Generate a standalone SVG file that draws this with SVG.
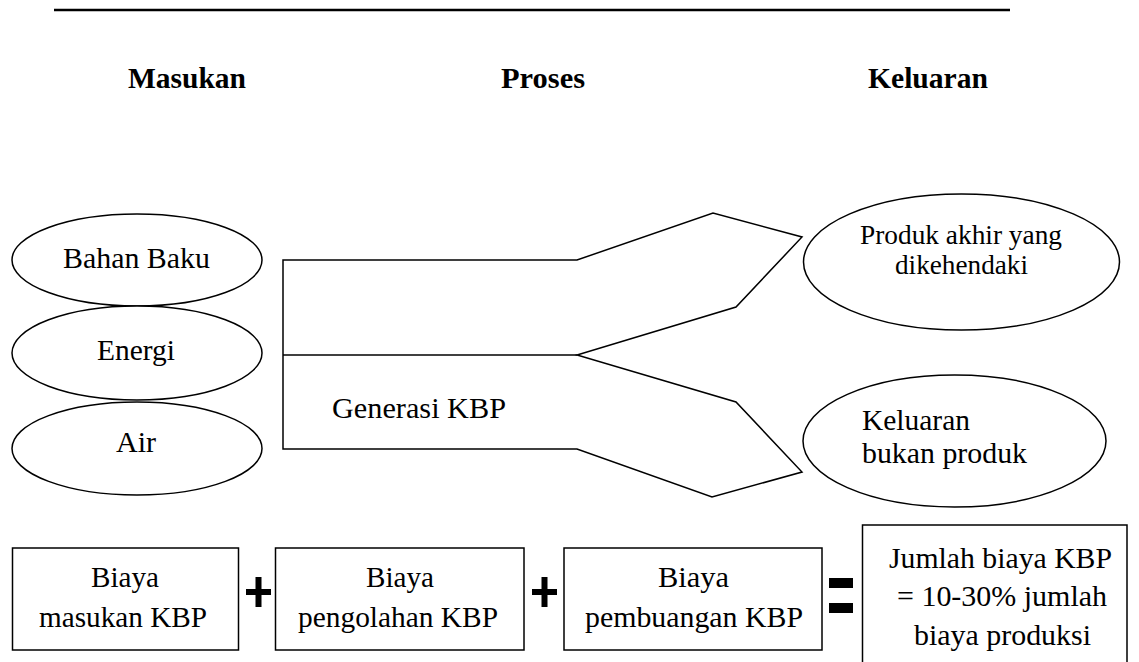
<svg xmlns="http://www.w3.org/2000/svg" width="1139" height="662" viewBox="0 0 1139 662">
  <style>
    .shape { fill: #ffffff; stroke: #000000; stroke-width: 1.5; }
    .edge { fill: none; stroke: #000000; stroke-width: 1.5; }
    .t { font-family: "Liberation Serif", "Times New Roman", serif; font-size: 30px; fill: #000000; }
    .s { font-size: 27.5px; }
    .h { font-family: "Liberation Serif", "Times New Roman", serif; font-size: 30px; font-weight: bold; fill: #000000; }
    .op { fill: #000000; }
  </style>
  <rect width="1139" height="662" fill="#ffffff"/>

  <!-- rule at the top of the page -->
  <line x1="54" y1="10" x2="1010" y2="10" stroke="#000000" stroke-width="2.5"/>

  <!-- column headers -->
  <g id="headers">
    <text class="h" x="128" y="88" textLength="118" lengthAdjust="spacingAndGlyphs">Masukan</text>
    <text class="h" x="501" y="88" textLength="84" lengthAdjust="spacingAndGlyphs">Proses</text>
    <text class="h" x="868" y="88" textLength="120" lengthAdjust="spacingAndGlyphs">Keluaran</text>
  </g>

  <!-- inputs -->
  <g id="input-bahan-baku">
    <ellipse class="shape" cx="137" cy="260" rx="125" ry="46"/>
    <text class="t" x="63" y="268" textLength="147" lengthAdjust="spacingAndGlyphs">Bahan Baku</text>
  </g>
  <g id="input-energi">
    <ellipse class="shape" cx="137" cy="353" rx="125" ry="47"/>
    <text class="t" x="97" y="360" textLength="78" lengthAdjust="spacingAndGlyphs">Energi</text>
  </g>
  <g id="input-air">
    <ellipse class="shape" cx="137" cy="448.5" rx="125" ry="46.5"/>
    <text class="t" x="116" y="452" textLength="40" lengthAdjust="spacingAndGlyphs">Air</text>
  </g>

  <!-- process: forked arrow body -->
  <g id="process">
    <polygon class="shape" points="283,260 577,260 713,213 802,237 736,307 577,355 736,402 802,472 712,497 577,449 283,449"/>
    <line class="edge" x1="283" y1="355" x2="577" y2="355"/>
    <text class="t" x="332" y="418" textLength="174" lengthAdjust="spacingAndGlyphs">Generasi KBP</text>
  </g>

  <!-- outputs -->
  <g id="output-produk">
    <ellipse class="shape" cx="961.5" cy="262" rx="158" ry="68"/>
    <text class="t s" x="860" y="244" textLength="202" lengthAdjust="spacingAndGlyphs">Produk akhir yang</text>
    <text class="t s" x="895" y="274" textLength="133" lengthAdjust="spacingAndGlyphs">dikehendaki</text>
  </g>
  <g id="output-bukan-produk">
    <ellipse class="shape" cx="954.5" cy="441" rx="151.5" ry="66"/>
    <text class="t" x="862" y="430" textLength="108" lengthAdjust="spacingAndGlyphs">Keluaran</text>
    <text class="t" x="862" y="463" textLength="165" lengthAdjust="spacingAndGlyphs">bukan produk</text>
  </g>

  <!-- cost equation -->
  <g id="cost-input">
    <rect class="shape" x="12.5" y="548" width="226" height="102"/>
    <text class="t" x="91" y="587" textLength="68" lengthAdjust="spacingAndGlyphs">Biaya</text>
    <text class="t" x="39" y="627" textLength="168" lengthAdjust="spacingAndGlyphs">masukan KBP</text>
  </g>
  <g id="plus-1">
    <rect class="op" x="246" y="589" width="25" height="6"/>
    <rect class="op" x="255.5" y="577" width="6" height="30"/>
  </g>
  <g id="cost-processing">
    <rect class="shape" x="275.5" y="548" width="248.5" height="102"/>
    <text class="t" x="366" y="587" textLength="68" lengthAdjust="spacingAndGlyphs">Biaya</text>
    <text class="t" x="298" y="627" textLength="200" lengthAdjust="spacingAndGlyphs">pengolahan KBP</text>
  </g>
  <g id="plus-2">
    <rect class="op" x="532" y="589" width="25" height="6"/>
    <rect class="op" x="541.5" y="577" width="6" height="30"/>
  </g>
  <g id="cost-disposal">
    <rect class="shape" x="564" y="548" width="258" height="102"/>
    <text class="t" x="658" y="587" textLength="71" lengthAdjust="spacingAndGlyphs">Biaya</text>
    <text class="t" x="585" y="627" textLength="218" lengthAdjust="spacingAndGlyphs">pembuangan KBP</text>
  </g>
  <g id="equals">
    <rect class="op" x="829" y="578" width="24" height="10"/>
    <rect class="op" x="829" y="603" width="24" height="10"/>
  </g>
  <g id="cost-total">
    <path class="edge" d="M862.5,662 V525 H1127 V662"/>
    <text class="t" x="889" y="568" textLength="223" lengthAdjust="spacingAndGlyphs">Jumlah biaya KBP</text>
    <text class="t" x="897" y="606" textLength="210" lengthAdjust="spacingAndGlyphs">= 10-30% jumlah</text>
    <text class="t" x="914" y="645" textLength="177" lengthAdjust="spacingAndGlyphs">biaya produksi</text>
  </g>
</svg>
